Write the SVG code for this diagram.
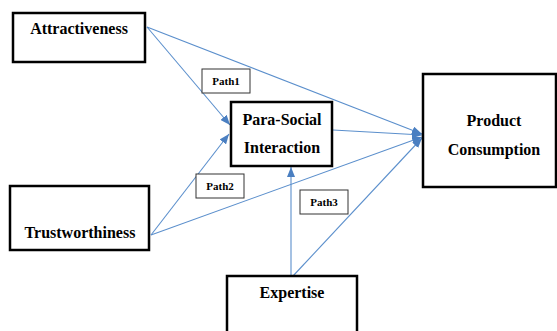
<svg xmlns="http://www.w3.org/2000/svg" width="557" height="331" viewBox="0 0 557 331">
<style>
.node{fill:#fff;stroke:#000;stroke-width:2.5}
.lbl{fill:#fff;stroke:#333;stroke-width:1}
.t{font-family:'Liberation Serif','Times New Roman','DejaVu Serif',serif;font-weight:bold;font-size:16px;fill:#000;text-anchor:middle}
.p{font-family:'Liberation Serif','Times New Roman','DejaVu Serif',serif;font-weight:bold;font-size:11px;fill:#000;text-anchor:middle}
.c{stroke:#5B8FCC;stroke-width:1.1;fill:none;marker-end:url(#ah)}
</style>
<defs>
<marker id="ah" viewBox="0 0 10 8" refX="10" refY="4" markerWidth="10" markerHeight="8" markerUnits="userSpaceOnUse" orient="auto">
<path d="M0,0 L10,4 L0,8 Z" fill="#4A7FC1"/>
</marker>
</defs>
<rect width="557" height="331" fill="#fff"/>
<g id="connectors">
<line class="c" x1="147" y1="27" x2="230" y2="125"/>
<line class="c" x1="147" y1="27" x2="422" y2="134"/>
<line class="c" x1="151" y1="235" x2="229" y2="134"/>
<line class="c" x1="151" y1="235" x2="422" y2="137"/>
<line class="c" x1="333" y1="130" x2="422" y2="135"/>
<line class="c" x1="291" y1="276" x2="291" y2="167"/>
<line class="c" x1="293" y1="276" x2="422" y2="138"/>
</g>
<g id="attractiveness">
<rect class="node" x="13" y="13" width="132" height="49"/>
<text class="t" x="79" y="34">Attractiveness</text>
</g>
<g id="para-social">
<rect class="node" x="231" y="102" width="101" height="64"/>
<text class="t" x="282" y="125">Para-Social</text>
<text class="t" x="282" y="153">Interaction</text>
</g>
<g id="product">
<rect class="node" x="423" y="74" width="133" height="113"/>
<text class="t" x="494" y="126">Product</text>
<text class="t" x="494" y="155">Consumption</text>
</g>
<g id="trustworthiness">
<rect class="node" x="10" y="186" width="139" height="64"/>
<text class="t" x="80" y="238">Trustworthiness</text>
</g>
<g id="expertise">
<rect class="node" x="227" y="276" width="130" height="60"/>
<text class="t" x="292" y="298">Expertise</text>
</g>
<g id="path1">
<rect class="lbl" x="202" y="69" width="48" height="24"/>
<text class="p" x="226" y="85">Path1</text>
</g>
<g id="path2">
<rect class="lbl" x="196" y="174" width="48" height="24"/>
<text class="p" x="220" y="190">Path2</text>
</g>
<g id="path3">
<rect class="lbl" x="300" y="190" width="48" height="24"/>
<text class="p" x="324" y="206">Path3</text>
</g>
</svg>
